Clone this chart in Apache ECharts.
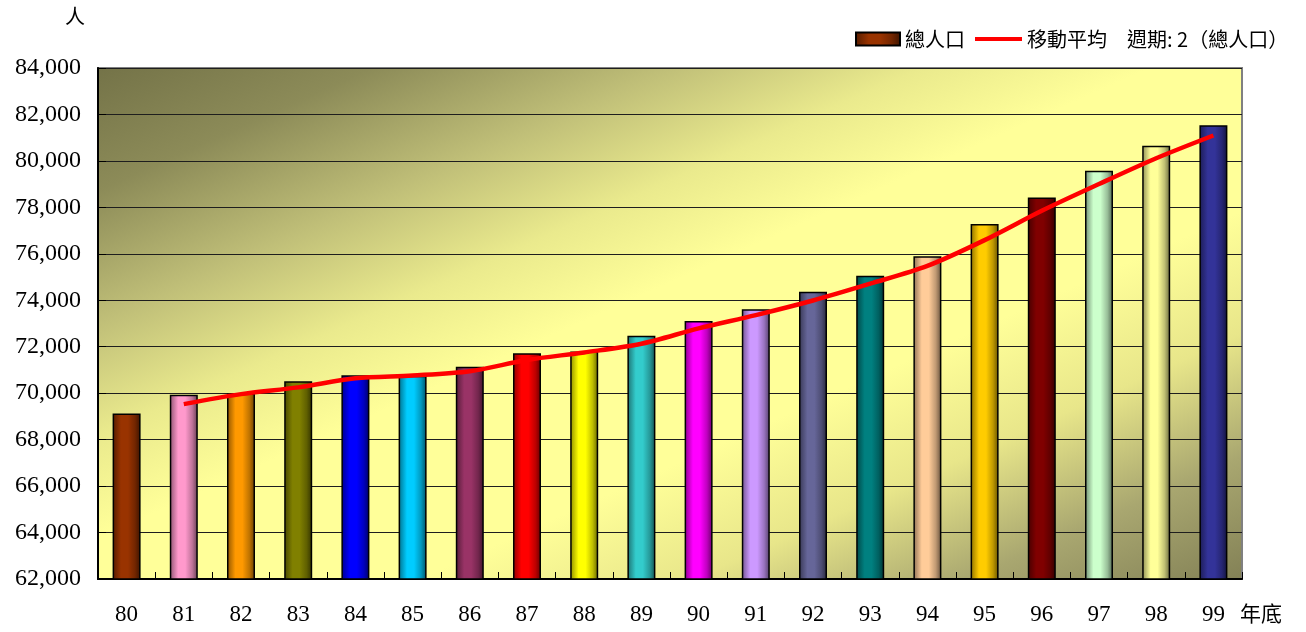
<!DOCTYPE html>
<html>
<head>
<meta charset="utf-8">
<script src="https://cdn.jsdelivr.net/npm/echarts@6/dist/echarts.min.js"></script>
<style>
html,body{margin:0;padding:0;background:#fff;}
#chart{width:1306px;height:632px;}
</style>
</head>
<body>
<div id="chart"></div>
<script>
// ---- data ----
const categories = ['80','81','82','83','84','85','86','87','88','89','90','91','92','93','94','95','96','97','98','99'];
const population = [69130, 69930, 69990, 70510, 70770, 70750, 71140, 71720, 71790, 72470, 73110, 73610, 74370, 75060, 75900, 77280, 78430, 79580, 80650, 81540];
const movingAvg = [null, 69530, 69960, 70250, 70640, 70760, 70945, 71430, 71755, 72130, 72790, 73360, 73990, 74715, 75480, 76590, 77855, 79005, 80115, 81095];
const yTicks = { min: 62000, max: 84000, interval: 2000 };
const seriesNames = ['總人口', '移動平均　週期: 2（總人口）'];
const axisNames = { y: '人', x: '年底' };

// ---- styles ----
const barColors = ['#993300','#FF99CC','#FF9900','#808000','#0000FF','#00CCFF','#993366','#FF0000','#FFFF00','#33CCCC',
                   '#FF00FF','#CC99FF','#666699','#008080','#FFCC99','#FFCC00','#800000','#CCFFCC','#FFFF99','#333399'];

function shade(hex, f) {
  const n = parseInt(hex.slice(1), 16);
  const r = Math.round(((n >> 16) & 255) * f), g = Math.round(((n >> 8) & 255) * f), b = Math.round((n & 255) * f);
  return 'rgb(' + r + ',' + g + ',' + b + ')';
}
function cyl(hex) {
  return { type: 'linear', x: 0, y: 0, x2: 1, y2: 0, colorStops: [
    { offset: 0, color: shade(hex, 0.55) },
    { offset: 0.3, color: hex },
    { offset: 0.55, color: hex },
    { offset: 0.8, color: shade(hex, 0.75) },
    { offset: 1, color: shade(hex, 0.4) }
  ]};
}

const G = { left: 98, top: 68, w: 1144, h: 511 };
const k = 2 * G.w * G.h / (G.w * G.w + G.h * G.h);
const bgGrad = {
  type: 'linear', global: true,
  x: G.left, y: G.top, x2: G.left + G.h * k, y2: G.top + G.w * k,
  colorStops: [
    { offset: 0, color: '#747348' },
    { offset: 0.12, color: '#8C8B58' },
    { offset: 0.25, color: '#C0BF78' },
    { offset: 0.36, color: '#EAEA8D' },
    { offset: 0.46, color: '#FFFF99' },
    { offset: 0.64, color: '#FFFF99' },
    { offset: 0.76, color: '#E8E68A' },
    { offset: 0.88, color: '#A9A770' },
    { offset: 1, color: '#838156' }
  ]
};

const chart = echarts.init(document.getElementById('chart'), null, { renderer: 'canvas' });
const serif = '"Liberation Serif", "DejaVu Serif", serif';
const cjk = '"Noto Sans CJK TC", "Noto Sans CJK SC", sans-serif';

chart.setOption({
  animation: false,
  backgroundColor: '#ffffff',
  grid: {
    left: G.left, top: G.top, width: G.w, height: G.h,
    show: true, backgroundColor: bgGrad, borderColor: '#808080', borderWidth: 2
  },
  legend: [
    {
      data: [{ name: seriesNames[0], icon: 'rect' }],
      left: 850, top: 24, itemWidth: 44, itemHeight: 13, itemGap: 8,
      textStyle: { fontFamily: cjk, fontSize: 20, color: '#000' }
    },
    {
      data: [{ name: seriesNames[1], icon: 'rect', itemStyle: { color: '#FF0000' } }],
      left: 970, top: 24, itemWidth: 47, itemHeight: 4, itemGap: 8,
      textStyle: { fontFamily: cjk, fontSize: 20, color: '#000' }
    }
  ],
  graphic: [
    { type: 'text', left: 65, top: 6, style: { text: axisNames.y, font: '20px ' + cjk, fill: '#000' } },
    { type: 'text', left: 1240, top: 603, style: { text: axisNames.x, font: '21px ' + cjk, fill: '#000' } }
  ],
  xAxis: {
    type: 'category',
    data: categories,
    axisLine: { lineStyle: { color: '#000', width: 2 } },
    axisTick: { show: true, inside: true, length: 7, lineStyle: { color: '#000', width: 1 } },
    axisLabel: { fontFamily: serif, fontSize: 23, color: '#000', margin: 24 },
    splitLine: { show: false }
  },
  yAxis: {
    type: 'value',
    min: yTicks.min, max: yTicks.max, interval: yTicks.interval,
    axisLine: { show: true, lineStyle: { color: '#000', width: 2 } },
    axisTick: { show: true, inside: true, length: 8, lineStyle: { color: '#000' } },
    axisLabel: {
      fontFamily: serif, fontSize: 24, color: '#000', margin: 17,
      formatter: v => v.toLocaleString('en-US')
    },
    splitLine: { show: true, lineStyle: { color: '#1e1e1e', width: 1.2 } }
  },
  series: [
    {
      name: seriesNames[0],
      type: 'bar',
      barWidth: 28,
      data: population.map((v, i) => ({ value: v, itemStyle: { color: cyl(barColors[i]) } })),
      itemStyle: { color: cyl(barColors[0]), borderColor: '#000', borderWidth: 1.5 },
      emphasis: { disabled: true }
    },
    {
      name: seriesNames[1],
      type: 'line',
      data: movingAvg,
      symbol: 'none',
      smooth: 0.3,
      connectNulls: false,
      itemStyle: { color: '#FF0000' },
      lineStyle: { color: '#FF0000', width: 4.5 },
      z: 5
    }
  ]
});
</script>
</body>
</html>
